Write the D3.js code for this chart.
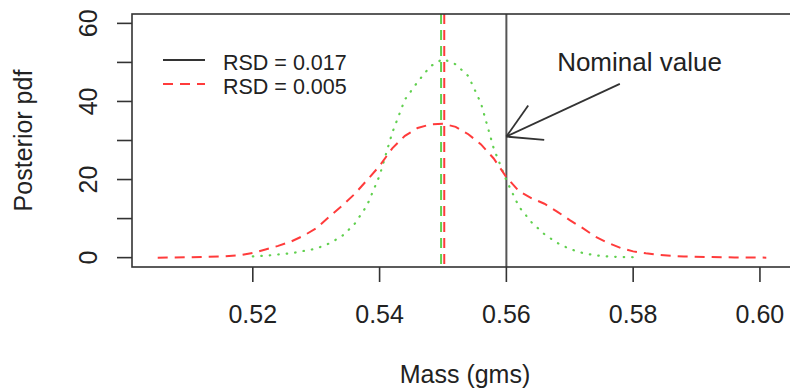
<!DOCTYPE html>
<html>
<head>
<meta charset="utf-8">
<script src="https://cdn.jsdelivr.net/npm/d3@7"></script>
<style>
    body { margin: 0; background: #fff; }
    svg text { font-family: "Liberation Sans", Arial, sans-serif; fill: #222; }
</style>
</head>
<body>
<div id="chart"></div>
<script>
// posterior density, wide prior (red dashed)
var massRed = [0.505, 0.510, 0.515, 0.518, 0.520, 0.522, 0.524, 0.526, 0.528, 0.530, 0.532, 0.534, 0.536, 0.538,
    0.540, 0.542, 0.544, 0.546, 0.548, 0.550, 0.552, 0.554, 0.556, 0.558, 0.560, 0.562, 0.564, 0.566, 0.568,
    0.570, 0.572, 0.574, 0.576, 0.578, 0.580, 0.582, 0.584, 0.586, 0.588, 0.592, 0.596, 0.601];
var pdfRed = [0, 0.1, 0.3, 0.6, 1.2, 2.1, 3.0, 4.1, 5.6, 7.5, 10.4, 13.2, 16.2, 19.8,
    23.5, 28.0, 31.2, 33.2, 34.1, 34.3, 33.5, 31.6, 29.0, 25.4, 20.6, 17.0, 15.2, 13.8, 11.8,
    9.6, 7.6, 5.4, 3.8, 2.5, 1.6, 1.1, 0.7, 0.45, 0.3, 0.15, 0.05, 0];

// posterior density, narrow prior (green dotted)
var massGreen = [0.520, 0.522, 0.524, 0.526, 0.528, 0.530, 0.532, 0.534, 0.536, 0.538, 0.540, 0.542, 0.544,
    0.546, 0.548, 0.550, 0.552, 0.554, 0.556, 0.558, 0.560, 0.562, 0.564, 0.566, 0.568, 0.570, 0.572,
    0.574, 0.576, 0.578, 0.580];
var pdfGreen = [0.3, 0.5, 0.8, 1.1, 1.7, 2.3, 3.6, 5.4, 8.5, 13.3, 21.0, 32.0, 40.5,
    45.0, 49.0, 50.9, 49.5, 46.5, 39.5, 28.0, 19.8, 13.0, 9.0, 6.0, 3.8, 2.2, 1.2,
    0.6, 0.3, 0.15, 0.1];

var meanRed = 0.5502;
var meanGreen = 0.5497;
var nominal = 0.56;

var xTicks = [0.52, 0.54, 0.56, 0.58, 0.60];
var yTicks = [0, 10, 20, 30, 40, 50, 60];
var yLabels = [0, 20, 40, 60];

var legendLabels = ["RSD = 0.017", "RSD = 0.005"];

var arrowFrom = [0.5779, 44.5];
var arrowTo = [0.56, 31];
var noteAt = [0.581, 50];

var width = 790, height = 392;
var boxL = 132, boxR = 792, boxT = 14, boxB = 267;

// R style 4% padding around the data range
var xr = [0.5048, 0.6012];
var pad = (xr[1] - xr[0]) * 0.04;
var x = d3.scaleLinear().domain([xr[0] - pad, xr[1] + pad]).range([boxL, boxR]);
var y = d3.scaleLinear().domain([-2.4, 62.4]).range([boxB, boxT]);

var svg = d3.select("#chart").append("svg")
    .attr("width", width)
    .attr("height", height);

var plot = svg.append("g");

var line = d3.line()
    .x(function (d) { return x(d[0]); })
    .y(function (d) { return y(d[1]); });

// mean lines
plot.append("line")
    .attr("x1", x(meanGreen)).attr("x2", x(meanGreen))
    .attr("y1", boxT).attr("y2", boxB)
    .attr("stroke", "#61D04F").attr("stroke-width", 2)
    .attr("stroke-dasharray", "10,6");
plot.append("line")
    .attr("x1", x(meanRed)).attr("x2", x(meanRed))
    .attr("y1", boxT).attr("y2", boxB)
    .attr("stroke", "#ff3b3b").attr("stroke-width", 2)
    .attr("stroke-dasharray", "10,6");

// nominal value
plot.append("line")
    .attr("x1", x(nominal)).attr("x2", x(nominal))
    .attr("y1", boxT).attr("y2", boxB)
    .attr("stroke", "#555").attr("stroke-width", 2);

plot.append("path")
    .datum(massGreen.map(function (m, i) { return [m, pdfGreen[i]]; }))
    .attr("d", line)
    .attr("fill", "none")
    .attr("stroke", "#61D04F")
    .attr("stroke-width", 2.2)
    .attr("stroke-linecap", "round")
    .attr("stroke-dasharray", "0.5,8");

plot.append("path")
    .datum(massRed.map(function (m, i) { return [m, pdfRed[i]]; }))
    .attr("d", line)
    .attr("fill", "none")
    .attr("stroke", "#ff3b3b")
    .attr("stroke-width", 2)
    .attr("stroke-dasharray", "10,7");

// box
svg.append("rect")
    .attr("x", boxL).attr("y", boxT)
    .attr("width", boxR - boxL).attr("height", boxB - boxT)
    .attr("fill", "none")
    .attr("stroke", "#333")
    .attr("stroke-width", 1.6);

// x axis
svg.selectAll("line.xtick")
    .data(xTicks)
    .enter().append("line")
    .attr("class", "xtick")
    .attr("x1", function (d) { return x(d); })
    .attr("x2", function (d) { return x(d); })
    .attr("y1", boxB).attr("y2", boxB + 15)
    .attr("stroke", "#333").attr("stroke-width", 1.6);

svg.selectAll("text.xlab")
    .data(xTicks)
    .enter().append("text")
    .attr("class", "xlab")
    .attr("x", function (d) { return x(d); })
    .attr("y", 323)
    .attr("text-anchor", "middle")
    .style("font-size", "25px")
    .text(function (d) { return d3.format(".2f")(d); });

// y axis
svg.selectAll("line.ytick")
    .data(yTicks)
    .enter().append("line")
    .attr("class", "ytick")
    .attr("x1", boxL - 15).attr("x2", boxL)
    .attr("y1", function (d) { return y(d); })
    .attr("y2", function (d) { return y(d); })
    .attr("stroke", "#333").attr("stroke-width", 1.6);

svg.selectAll("text.ylab")
    .data(yLabels)
    .enter().append("text")
    .attr("class", "ylab")
    .attr("transform", function (d) { return "translate(97," + y(d) + ") rotate(-90)"; })
    .attr("text-anchor", "middle")
    .style("font-size", "25px")
    .text(function (d) { return d; });

// titles
svg.append("text")
    .attr("x", 465).attr("y", 383)
    .attr("text-anchor", "middle")
    .style("font-size", "25px")
    .text("Mass (gms)");

svg.append("text")
    .attr("transform", "translate(32," + (boxT + boxB) / 2 + ") rotate(-90)")
    .attr("text-anchor", "middle")
    .style("font-size", "25px")
    .text("Posterior pdf");

// arrow to the nominal value
var ax0 = x(arrowFrom[0]), ay0 = y(arrowFrom[1]);
var ax1 = x(arrowTo[0]), ay1 = y(arrowTo[1]);
var ang = Math.atan2(ay0 - ay1, ax0 - ax1);
var headLen = 38, headAng = Math.PI / 6;
var arrow = svg.append("g").attr("stroke", "#333").attr("stroke-width", 1.8).attr("fill", "none");
arrow.append("line").attr("x1", ax0).attr("y1", ay0).attr("x2", ax1).attr("y2", ay1);
[-headAng, headAng].forEach(function (a) {
    arrow.append("line")
        .attr("x1", ax1).attr("y1", ay1)
        .attr("x2", ax1 + headLen * Math.cos(ang + a))
        .attr("y2", ay1 + headLen * Math.sin(ang + a));
});

svg.append("text")
    .attr("x", x(noteAt[0])).attr("y", y(noteAt[1]) + 9)
    .attr("text-anchor", "middle")
    .style("font-size", "26px")
    .text("Nominal value");

// legend
var legend = svg.append("g").attr("transform", "translate(163,60)");
var legendStyles = [
    {stroke: "#333", dash: null},
    {stroke: "#ff3b3b", dash: "10,7"}
];
legend.selectAll("line")
    .data(legendLabels)
    .enter().append("line")
    .attr("x1", 0).attr("x2", 42)
    .attr("y1", function (d, i) { return i * 24; })
    .attr("y2", function (d, i) { return i * 24; })
    .attr("stroke", function (d, i) { return legendStyles[i].stroke; })
    .attr("stroke-width", 2)
    .attr("stroke-dasharray", function (d, i) { return legendStyles[i].dash; });
legend.selectAll("text")
    .data(legendLabels)
    .enter().append("text")
    .attr("x", 60)
    .attr("y", function (d, i) { return i * 24 + 9.5; })
    .style("font-size", "21.5px")
    .text(function (d) { return d; });
</script>
</body>
</html>
